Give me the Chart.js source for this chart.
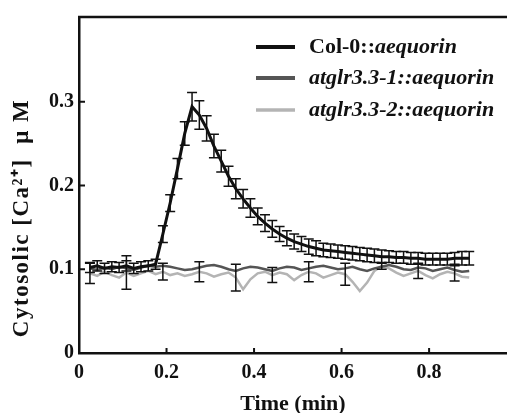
<!DOCTYPE html>
<html>
<head>
<meta charset="utf-8">
<script src="https://cdn.jsdelivr.net/npm/chart.js@4.4.1/dist/chart.umd.min.js"></script>
<style>
  html, body { margin: 0; padding: 0; background: #fff; }
  #wrap { width: 507px; height: 413px; }
</style>
</head>
<body>
<div id="wrap"><canvas id="c"></canvas></div>
<script>
// time of each sample, seconds
const timeSec = [1.5, 2.5, 3.5, 4.5, 5.5, 6.5, 7.5, 8.5, 9.5, 10.5,
  11.5, 12.5, 13.5, 14.5, 15.5, 16.5, 17.5, 18.5, 19.5, 20.5,
  21.5, 22.5, 23.5, 24.5, 25.5, 26.5, 27.5, 28.5, 29.5, 30.5,
  31.5, 32.5, 33.5, 34.5, 35.5, 36.5, 37.5, 38.5, 39.5, 40.5,
  41.5, 42.5, 43.5, 44.5, 45.5, 46.5, 47.5, 48.5, 49.5, 50.5,
  51.5, 52.5, 53.5];

const colValues = [0.102, 0.104, 0.101, 0.103, 0.102, 0.104, 0.101, 0.103, 0.104, 0.106,
  0.142, 0.179, 0.220, 0.262, 0.294, 0.284, 0.268, 0.247, 0.229, 0.211,
  0.196, 0.184, 0.173, 0.163, 0.155, 0.148, 0.142, 0.137, 0.133, 0.130,
  0.127, 0.125, 0.123, 0.122, 0.121, 0.120, 0.119, 0.118, 0.117, 0.116,
  0.115, 0.115, 0.114, 0.114, 0.113, 0.113, 0.112, 0.112, 0.112, 0.112,
  0.113, 0.113, 0.113];
const colErrors = [0.006, 0.006, 0.006, 0.006, 0.006, 0.006, 0.006, 0.006, 0.006, 0.006,
  0.010, 0.010, 0.012, 0.014, 0.017, 0.017, 0.015, 0.014, 0.013, 0.012,
  0.012, 0.011, 0.011, 0.010, 0.010, 0.010, 0.009, 0.009, 0.009, 0.009,
  0.009, 0.009, 0.008, 0.008, 0.008, 0.008, 0.008, 0.008, 0.008, 0.008,
  0.008, 0.007, 0.007, 0.007, 0.007, 0.007, 0.007, 0.007, 0.007, 0.007,
  0.007, 0.008, 0.008];

const mut1Values = [0.101, 0.099, 0.102, 0.100, 0.103, 0.101, 0.099, 0.102, 0.104, 0.103,
  0.104, 0.103, 0.101, 0.099, 0.100, 0.102, 0.104, 0.105, 0.103, 0.100,
  0.098, 0.101, 0.103, 0.102, 0.100, 0.098, 0.101, 0.103, 0.102, 0.099,
  0.101, 0.103, 0.104, 0.102, 0.100, 0.101, 0.103, 0.100, 0.098, 0.101,
  0.103, 0.105, 0.103, 0.100, 0.099, 0.102, 0.101, 0.098, 0.100, 0.102,
  0.099, 0.097, 0.098];

const mut2Values = [0.095, 0.092, 0.097, 0.093, 0.090, 0.096, 0.092, 0.095, 0.098, 0.094,
  0.097, 0.093, 0.095, 0.092, 0.094, 0.097, 0.095, 0.091, 0.094, 0.096,
  0.090, 0.076, 0.088, 0.095, 0.097, 0.093, 0.096, 0.094, 0.087, 0.093,
  0.097, 0.095, 0.090, 0.093, 0.096, 0.094, 0.085, 0.074, 0.084, 0.098,
  0.104, 0.101, 0.096, 0.092, 0.095, 0.098, 0.093, 0.089, 0.094, 0.097,
  0.095, 0.091, 0.090];
// mutant error bars only every fifth sample
const mutErrors = [0.012, null, null, null, null, 0.020, null, null, null, null,
  0.010, null, null, null, null, 0.012, null, null, null, null,
  0.016, null, null, null, null, 0.009, null, null, null, null,
  0.012, null, null, null, null, 0.013, null, null, null, null,
  0.004, null, null, null, null, 0.009, null, null, null, null,
  0.009, null, null];

const xTicks = [0, 0.2, 0.4, 0.6, 0.8];
const yTicks = [0, 0.1, 0.2, 0.3];

const times = timeSec.map(s => s / 60);
const pts = vals => vals.map((v, i) => ({ x: times[i], y: v }));

const FONT = "'Liberation Serif', 'Times New Roman', serif";
const INK = '#111';

// error bars, inward ticks, top frame line, y title, legend
const extras = {
  id: 'extras',
  afterDatasetsDraw(chart) {
    const { ctx, scales: { x, y } } = chart;
    ctx.save();
    ctx.strokeStyle = INK;
    ctx.lineWidth = 1.5;
    chart.data.datasets.forEach(ds => {
      if (!ds.errors) return;
      ds.data.forEach((p, i) => {
        const e = ds.errors[i];
        if (e == null) return;
        const px = x.getPixelForValue(p.x);
        const y1 = y.getPixelForValue(p.y + e);
        const y2 = y.getPixelForValue(p.y - e);
        const w = 5;
        ctx.beginPath();
        ctx.moveTo(px, y1); ctx.lineTo(px, y2);
        ctx.moveTo(px - w, y1); ctx.lineTo(px + w, y1);
        ctx.moveTo(px - w, y2); ctx.lineTo(px + w, y2);
        ctx.stroke();
      });
    });
    ctx.restore();
  },
  afterDraw(chart) {
    const { ctx, chartArea: a, scales: { x, y } } = chart;
    ctx.save();
    ctx.strokeStyle = INK;
    ctx.lineWidth = 2.5;
    ctx.beginPath();
    ctx.moveTo(a.left - 1, a.top);
    ctx.lineTo(a.right, a.top);
    ctx.stroke();
    ctx.lineWidth = 2;
    ctx.beginPath();
    xTicks.slice(1).forEach(v => {
      const px = x.getPixelForValue(v);
      ctx.moveTo(px, a.bottom); ctx.lineTo(px, a.bottom - 5);
    });
    yTicks.slice(1).forEach(v => {
      const py = y.getPixelForValue(v);
      ctx.moveTo(a.left, py); ctx.lineTo(a.left + 6, py);
    });
    ctx.stroke();

    // y axis title, sits a bit below the middle of the axis in the original
    ctx.fillStyle = INK;
    ctx.translate(22, 218);
    ctx.rotate(-Math.PI / 2);
    ctx.textAlign = 'center';
    ctx.textBaseline = 'middle';
    ctx.font = 'bold 23px ' + FONT;
    ctx.letterSpacing = '1.5px';
    ctx.fillText('Cytosolic [Ca²⁺]  μ M', 0, 0);
    ctx.letterSpacing = '0px';
    ctx.setTransform(1, 0, 0, 1, 0, 0);
    ctx.textAlign = 'left';

    // legend
    const items = [
      { color: '#111', lw: 4, y: 47, parts: [['bold', 'Col-0::'], ['italic bold', 'aequorin']] },
      { color: '#555', lw: 4, y: 78, parts: [['italic bold', 'atglr3.3-1::aequorin']] },
      { color: '#b4b4b4', lw: 3.5, y: 110, parts: [['italic bold', 'atglr3.3-2::aequorin']] }
    ];
    items.forEach(it => {
      ctx.strokeStyle = it.color;
      ctx.lineWidth = it.lw;
      ctx.beginPath();
      ctx.moveTo(256, it.y); ctx.lineTo(295, it.y);
      ctx.stroke();
      let tx = 309;
      ctx.fillStyle = INK;
      ctx.textBaseline = 'middle';
      it.parts.forEach(([style, txt]) => {
        ctx.font = style + ' 22px ' + FONT;
        ctx.fillText(txt, tx, it.y);
        tx += ctx.measureText(txt).width;
      });
    });
    ctx.restore();
  }
};

new Chart(document.getElementById('c'), {
  type: 'line',
  data: {
    datasets: [
      { label: 'Col-0::aequorin', data: pts(colValues), errors: colErrors,
        borderColor: '#111', borderWidth: 3 },
      { label: 'atglr3.3-1::aequorin', data: pts(mut1Values),
        borderColor: '#555', borderWidth: 2.5 },
      { label: 'atglr3.3-2::aequorin', data: pts(mut2Values), errors: mutErrors,
        borderColor: '#b4b4b4', borderWidth: 2.5 }
    ]
  },
  options: {
    responsive: true,
    maintainAspectRatio: false,
    animation: false,
    elements: { point: { radius: 0 }, line: { tension: 0 } },
    layout: { padding: { top: 12, right: 0, left: 0, bottom: 0 } },
    plugins: { legend: { display: false }, tooltip: { enabled: false } },
    scales: {
      x: {
        type: 'linear', min: 0, max: 0.978,
        grid: { display: false, drawTicks: false },
        border: { color: INK, width: 2.5 },
        afterBuildTicks: s => { s.ticks = xTicks.map(v => ({ value: v })); },
        afterFit: s => { s.height = 60; },
        ticks: { color: INK, padding: 8, maxRotation: 0,
          font: { family: FONT, size: 20, weight: 'bold' } },
        title: { display: true, text: 'Time (min)', color: INK, padding: { top: 0, bottom: 0 },
          font: { family: FONT, size: 22, weight: 'bold', lineHeight: 0.8 } }
      },
      y: {
        min: 0, max: 0.401,
        grid: { display: false, drawTicks: false },
        border: { color: INK, width: 2.5 },
        afterBuildTicks: s => { s.ticks = yTicks.map(v => ({ value: v })); },
        afterFit: s => { s.width = 79; },
        ticks: { color: INK, padding: 5,
          font: { family: FONT, size: 20, weight: 'bold' } },
        title: { display: false }
      }
    }
  },
  plugins: [extras]
});
</script>
</body>
</html>
